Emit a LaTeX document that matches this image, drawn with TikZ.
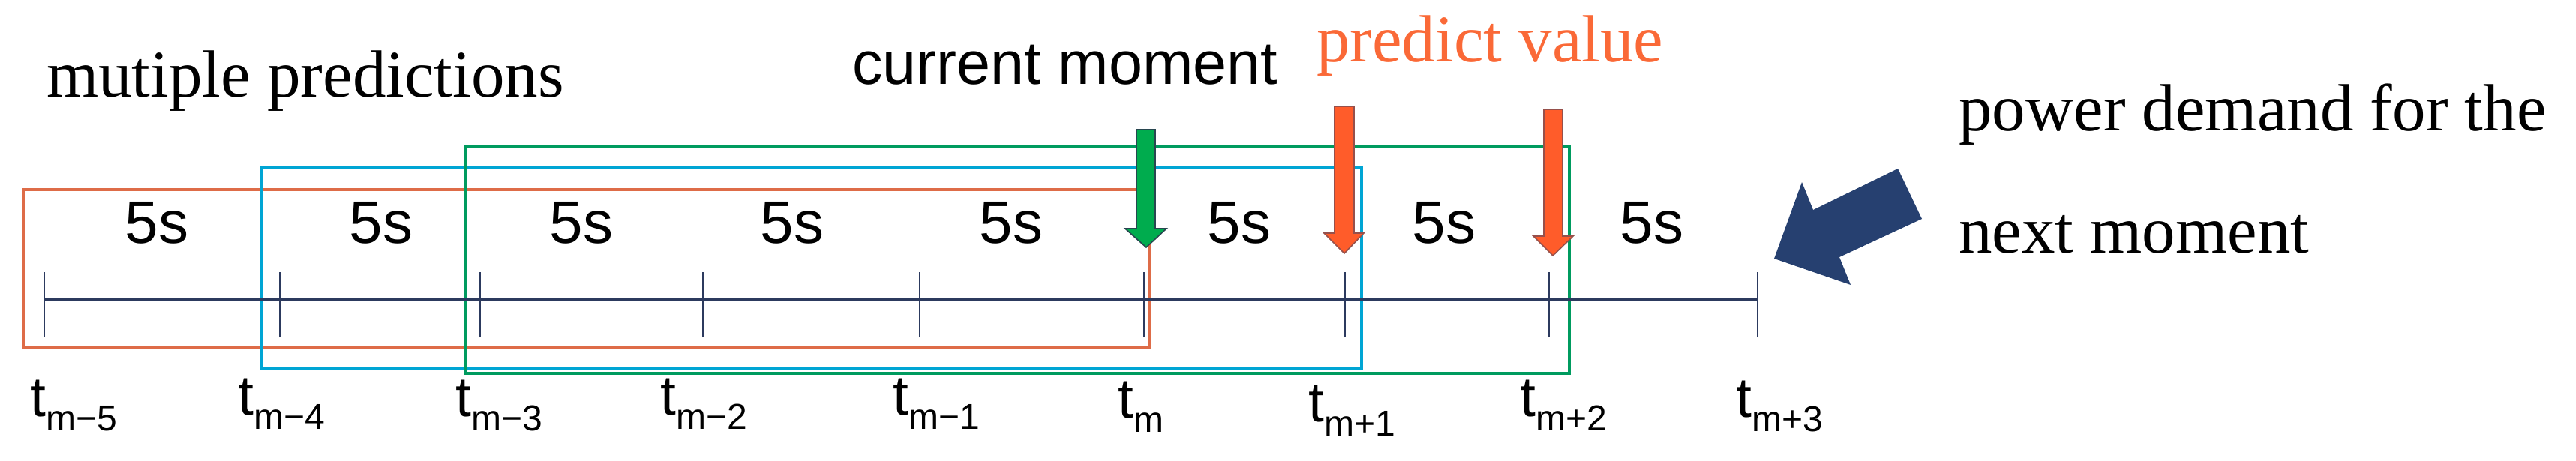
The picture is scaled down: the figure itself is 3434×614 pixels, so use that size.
\documentclass[tikz,border=0pt]{standalone}
\usepackage{fontspec}
\setmainfont{Liberation Serif}
\setsansfont{Liberation Sans}
\definecolor{rectorange}{RGB}{222,108,72}
\definecolor{rectcyan}{RGB}{0,165,212}
\definecolor{rectgreen}{RGB}{0,155,95}
\definecolor{axisblue}{RGB}{44,58,94}
\definecolor{arrgreen}{RGB}{0,172,78}
\definecolor{arrgreenedge}{RGB}{40,70,80}
\definecolor{arrorange}{RGB}{255,92,42}
\definecolor{arroredge}{RGB}{150,80,75}
\definecolor{txtorange}{RGB}{250,105,55}
\definecolor{navyarrow}{RGB}{38,64,112}
\newcommand{\tsub}[1]{\fontsize{75}{80}\selectfont t\raisebox{-19pt}{\fontsize{48}{50}\selectfont #1}}
\begin{document}
\begin{tikzpicture}[x=1pt,y=-1pt,
  win/.style={line width=3.5pt},
  axisline/.style={draw=axisblue,line width=3.2pt},
  tickline/.style={draw=axisblue,line width=2.6pt},
  dur/.style={font=\sffamily\fontsize{80}{90}\selectfont, inner sep=0pt, anchor=base},
  tlab/.style={inner sep=0pt, anchor=base west, font=\sffamily},
  serifbig/.style={inner sep=0pt, anchor=base west, font=\rmfamily\fontsize{89}{100}\selectfont},
  sansbig/.style={inner sep=0pt, anchor=base west, font=\sffamily\fontsize{81}{90}\selectfont},
  downarrow/.style={line width=1.6pt, line join=miter}
]
\useasboundingbox (0,0) rectangle (3434,614);

% windows
\draw[win, rectorange] (31,253) rectangle (1533,464);
\draw[win, rectcyan] (348,223) rectangle (1815,491);
\draw[win, rectgreen] (620,195) rectangle (2092,498);

% timeline
\coordinate (p0) at (59,400);
\coordinate (p1) at (373,400);
\coordinate (p2) at (640,400);
\coordinate (p3) at (937,400);
\coordinate (p4) at (1226,400);
\coordinate (p5) at (1525,400);
\coordinate (p6) at (1793,400);
\coordinate (p7) at (2065,400);
\coordinate (p8) at (2343,400);
\draw[axisline] (p0) -- (p8);
\foreach \i in {0,...,8}{
  \draw[tickline] ([yshift=-50pt]p\i) -- ([yshift=37pt]p\i);
}

% durations
\foreach \x/\n in {209/d1,508/d2,775/d3,1056/d4,1348/d5,1652/d6,1925/d7,2202/d8}{
  \node[dur] (\n) at (\x,324) {5s};
}

% time labels
\node[tlab] (l0) at (40,555) {\tsub{m−5}};
\node[tlab] (l1) at (317,553) {\tsub{m−4}};
\node[tlab] (l2) at (607,555) {\tsub{m−3}};
\node[tlab] (l3) at (880,553) {\tsub{m−2}};
\node[tlab] (l4) at (1190,553) {\tsub{m−1}};
\node[tlab] (l5) at (1490,557) {\tsub{m}};
\node[tlab] (l6) at (1744,562) {\tsub{m+1}};
\node[tlab] (l7) at (2026,555) {\tsub{m+2}};
\node[tlab] (l8) at (2314,556) {\tsub{m+3}};

% arrows
\filldraw[downarrow, fill=arrgreen, draw=arrgreenedge]
  (1515,173) -- (1540,173) -- (1540,305) -- (1555,305) -- (1528,330) -- (1500,305) -- (1515,305) -- cycle;
\filldraw[downarrow, fill=arrorange, draw=arroredge]
  (1779,142) -- (1805,142) -- (1805,311) -- (1818,311) -- (1792,338) -- (1765,311) -- (1779,311) -- cycle;
\filldraw[downarrow, fill=arrorange, draw=arroredge]
  (2058,146) -- (2083,146) -- (2083,315) -- (2097,315) -- (2070,341) -- (2044,315) -- (2058,315) -- cycle;
\fill[navyarrow] (2365,345) -- (2402,243) -- (2417,280) -- (2530,225) -- (2562,292) -- (2452,343) -- (2467,380) -- cycle;

% texts
\node[serifbig] (mp) at (62,129) {mutiple predictions};
\node[sansbig] (cm) at (1136,112) {current moment};
\node[serifbig, text=txtorange] (pv) at (1755,82) {predict value};
\node[serifbig] (pd1) at (2611,174) {power demand for the};
\node[serifbig] (pd2) at (2611,337) {next moment};
\end{tikzpicture}
\end{document}
